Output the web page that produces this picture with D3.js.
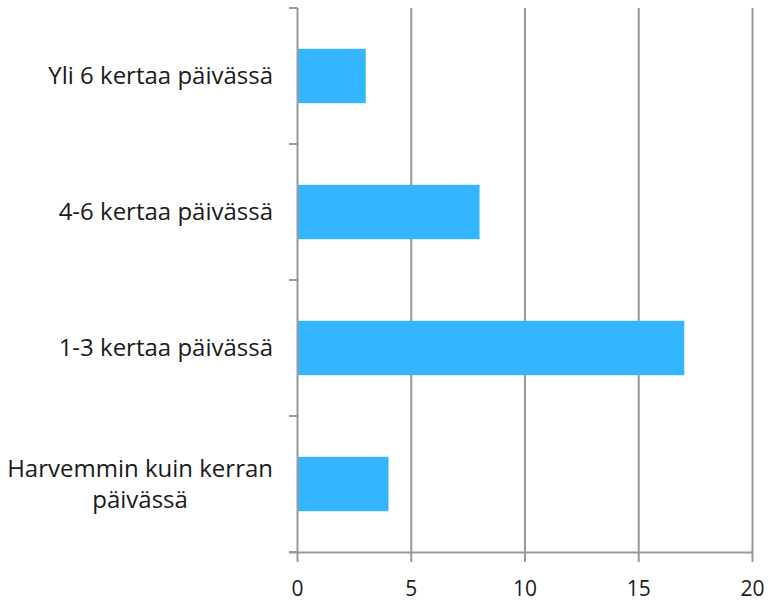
<!DOCTYPE html>
<html><head><meta charset="utf-8">
<script src="https://cdn.jsdelivr.net/npm/d3@7"></script>
<style>body{margin:0;background:#fff}</style>
</head><body>
<svg id="c" width="769" height="603"></svg>
<script>
const categories = [["Yli 6 kertaa päivässä"], ["4-6 kertaa päivässä"], ["1-3 kertaa päivässä"], ["Harvemmin kuin kerran", "päivässä"]];
const values = [3, 8, 17, 4];
const xTicks = [0, 5, 10, 15, 20];

const svg = d3.select("#c");
const font = "'Open Sans', sans-serif";
const x = d3.scaleLinear().domain([0, 20]).range([297.5, 752.5]);
const y = d3.scaleBand().domain(d3.range(categories.length)).range([8, 552]).padding(0);
const grid = "#999";

// gridlines
svg.append("g").selectAll("line").data(xTicks.slice(1)).join("line")
  .attr("x1", d => x(d)).attr("x2", d => x(d)).attr("y1", 8).attr("y2", 552.5)
  .attr("stroke", grid).attr("stroke-width", 2);

// bars
const bh = y.bandwidth() * 0.4;
svg.append("g").selectAll("rect").data(values).join("rect")
  .attr("x", x(0)).attr("y", (d, i) => y(i) + (y.bandwidth() - bh) / 2)
  .attr("width", d => x(d) - x(0)).attr("height", bh)
  .attr("fill", "#33b5ff");

// y axis
svg.append("line").attr("x1", 297.5).attr("x2", 297.5).attr("y1", 8).attr("y2", 552.5)
  .attr("stroke", grid).attr("stroke-width", 2);
svg.append("g").selectAll("line").data(d3.range(categories.length + 1)).join("line")
  .attr("x1", 289).attr("x2", 297.5)
  .attr("y1", i => 8 + i * y.step()).attr("y2", i => 8 + i * y.step())
  .attr("stroke", grid).attr("stroke-width", 2);

// x axis
svg.append("line").attr("x1", 289).attr("x2", 752.5).attr("y1", 552.5).attr("y2", 552.5)
  .attr("stroke", grid).attr("stroke-width", 2);
svg.append("g").selectAll("line").data(xTicks).join("line")
  .attr("x1", d => x(d)).attr("x2", d => x(d)).attr("y1", 552.5).attr("y2", 562)
  .attr("stroke", grid).attr("stroke-width", 2);
svg.append("g").selectAll("text").data(xTicks).join("text")
  .attr("x", d => x(d)).attr("y", 596).attr("text-anchor", "middle")
  .attr("font-family", font).attr("font-size", 21).attr("fill", "#1a1a1a")
  .text(d => d);

// category labels
categories.forEach((lines, i) => {
  const cy = y(i) + y.bandwidth() / 2;
  const t = svg.append("text").attr("font-family", font).attr("font-size", 24)
    .attr("fill", "#1a1a1a").attr("text-anchor", "middle");
  const lh = 31;
  const spans = lines.map((l, j) => t.append("tspan").text(l)
    .attr("y", cy + (j - (lines.length - 1) / 2) * lh + 8));
  const w = d3.max(spans, s => s.node().getComputedTextLength());
  spans.forEach(s => s.attr("x", 273 - w / 2));
});
</script>
</body></html>
